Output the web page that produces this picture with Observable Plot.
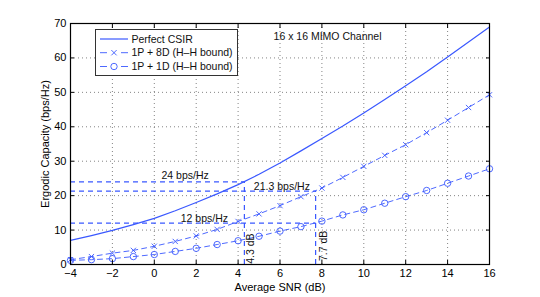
<!DOCTYPE html>
<html><head><meta charset="utf-8">
<script src="https://cdn.jsdelivr.net/npm/d3@7"></script>
<script src="https://cdn.jsdelivr.net/npm/@observablehq/plot@0.6"></script>
<style>
body{margin:0;background:#fff;}
#wrap{position:relative;width:540px;height:297px;font-family:"Liberation Sans",Arial,Helvetica,sans-serif;}
#legend{position:absolute;left:0;top:0;}
</style></head><body><div id="wrap"></div>
<script>
// ---- data ----
const snr = [-4,-3,-2,-1,0,1,2,3,4,5,6,7,8,9,10,11,12,13,14,15,16];
const perfectCSIR = [7.0,8.4,9.9,11.6,13.4,15.6,18.0,20.5,23.2,26.2,29.5,33.0,36.6,40.2,44.0,47.9,51.9,56.0,60.3,64.6,69.0];
const bound8D = [1.4,2.3,3.3,4.1,5.3,6.7,8.3,10.2,12.5,14.7,17.1,19.7,22.2,25.3,28.5,31.7,34.8,38.3,41.9,45.6,49.3];
const bound1D = [1.2,1.4,1.7,2.3,2.9,3.8,4.7,5.8,6.9,8.2,9.7,11.0,12.6,14.4,15.9,17.8,19.7,21.5,23.6,25.7,27.8];
const seriesNames = ["Perfect CSIR","1P + 8D (H\u2013H bound)","1P + 1D (H\u2013H bound)"];
const xTicks = [-4,-2,0,2,4,6,8,10,12,14,16];
const yTicks = [0,10,20,30,40,50,60,70];
const refLevels = [24, 21.3, 12];        // capacity levels (bps/Hz)
const refLevelEnd = [4.3, 7.7, 7.7];     // SNR where each level meets a curve
const refSNR = [4.3, 7.7];               // SNR values (dB)
const refSNRTop = [24, 21.3];
const levelLabels = ["24 bps/Hz","21.3 bps/Hz","12 bps/Hz"];
const snrLabels = ["4.3 dB","7.7 dB"];
const title = "16 x 16 MIMO Channel";

const blue = "#3a58ff";
const dash = "5,4";
const mk = arr => snr.map((s,i)=>({snr:s, c:arr[i]}));
const dCSIR = mk(perfectCSIR), d8 = mk(bound8D), d1 = mk(bound1D);
const hRules = refLevels.map((y,i)=>({y, x1:-4, x2:refLevelEnd[i]}));
const vRules = refSNR.map((x,i)=>({x, y1:0, y2:refSNRTop[i]}));
const levelText = [
  {x:1.47, y:25.9, t:levelLabels[0]},
  {x:6.09, y:22.7, t:levelLabels[1]},
  {x:2.39, y:13.4, t:levelLabels[2]}
];
const snrText = [
  {x:4.62, y:4.6, t:snrLabels[0]},
  {x:8.09, y:5.4, t:snrLabels[1]}
];

const chart = Plot.plot({
  width:540, height:297,
  marginLeft:70, marginRight:51, marginTop:23, marginBottom:33,
  x:{domain:[-4,16]},
  y:{domain:[0,70]},
  style:{fontFamily:"'Liberation Sans',Arial,Helvetica,sans-serif", fontSize:"10.5px", background:"white", color:"black"},
  marks:[
    Plot.gridX(xTicks,{stroke:"#777", strokeOpacity:0.9, strokeDasharray:"1,3"}),
    Plot.gridY(yTicks,{stroke:"#777", strokeOpacity:0.9, strokeDasharray:"1,3"}),
    Plot.ruleY(hRules,{y:"y", x1:"x1", x2:"x2", stroke:blue, strokeWidth:1.2, strokeDasharray:dash}),
    Plot.ruleX(vRules,{x:"x", y1:"y1", y2:"y2", stroke:blue, strokeWidth:1.2, strokeDasharray:dash}),
    Plot.line(dCSIR,{x:"snr", y:"c", stroke:blue, strokeWidth:1.2}),
    Plot.line(d8,{x:"snr", y:"c", stroke:blue, strokeWidth:0.9, strokeDasharray:dash}),
    Plot.dot(d8,{x:"snr", y:"c", symbol:"times", r:2.5, stroke:blue, strokeWidth:0.9}),
    Plot.line(d1,{x:"snr", y:"c", stroke:blue, strokeWidth:0.9, strokeDasharray:dash}),
    Plot.dot(d1,{x:"snr", y:"c", symbol:"circle", r:3.2, stroke:blue, fill:"none", strokeWidth:0.9}),
    Plot.text(levelText,{x:"x", y:"y", text:"t", fill:"#111", fontSize:10.5}),
    Plot.text(snrText,{x:"x", y:"y", text:"t", rotate:-90, fill:"#111", fontSize:10.5}),
    Plot.text([title],{x:()=>8.27, y:()=>66.3, text:d=>d, fill:"#111", fontSize:10.5}),
    Plot.frame({stroke:"black", strokeWidth:1.2}),
    Plot.axisX(xTicks,{anchor:"bottom", tickSize:-4, tickPadding:9, fontSize:11, label:"Average SNR (dB)", labelAnchor:"center", labelArrow:"none", labelOffset:26}),
    Plot.axisX(xTicks,{anchor:"top", tickSize:-4, tickFormat:()=>"", label:null}),
    Plot.axisY(yTicks,{anchor:"left", tickSize:-4, tickPadding:8, fontSize:11, label:"Ergodic Capacity (bps/Hz)", labelAnchor:"center", labelArrow:"none", labelOffset:29}),
    Plot.axisY(yTicks,{anchor:"right", tickSize:-4, tickFormat:()=>"", label:null})
  ]
});
const wrap = document.getElementById("wrap");
wrap.appendChild(chart);

// legend overlay
const L = d3.select(wrap).append("svg").attr("id","legend").attr("width",540).attr("height",297)
  .style("font-family","'Liberation Sans',Arial,Helvetica,sans-serif").style("font-size","10.5px");
L.append("rect").attr("x",95.5).attr("y",29.5).attr("width",142).attr("height",46)
  .attr("fill","white").attr("stroke","#333").attr("stroke-width",1);
const rowsY = [39, 52.7, 66.5];
seriesNames.forEach((name,i)=>{
  const y = rowsY[i];
  const g = L.append("g");
  if (i===0) {
    g.append("line").attr("x1",100).attr("x2",128).attr("y1",y).attr("y2",y).attr("stroke",blue).attr("stroke-width",1.2);
  } else {
    g.append("line").attr("x1",100).attr("x2",128).attr("y1",y).attr("y2",y).attr("stroke",blue).attr("stroke-width",0.9).attr("stroke-dasharray","7,14");
    if (i===1) g.append("path").attr("d",d3.symbol(d3.symbolTimes, 20)()).attr("transform",`translate(114,${y})`).attr("stroke",blue).attr("fill","none").attr("stroke-width",0.9);
    else g.append("circle").attr("cx",114).attr("cy",y).attr("r",3.2).attr("stroke",blue).attr("fill","none").attr("stroke-width",0.9);
  }
  g.append("text").attr("x",131.5).attr("y",y).attr("dy","0.35em").attr("fill","#111").text(name);
});
</script></body></html>
